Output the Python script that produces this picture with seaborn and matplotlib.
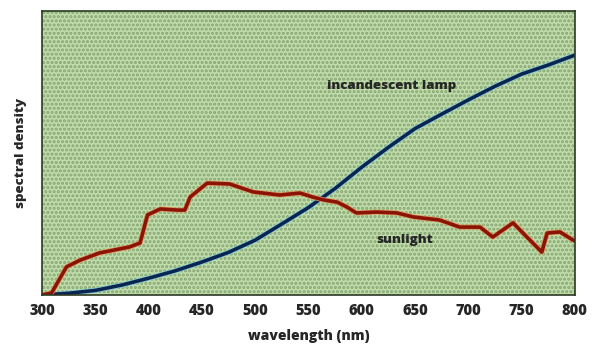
import numpy as np
import pandas as pd
import matplotlib
matplotlib.use("Agg")
import matplotlib.pyplot as plt
import matplotlib.patheffects as pe
import seaborn as sns

# sunlight spectrum (arbitrary units 0-100)
sun_wl = [300, 309, 323, 336, 354, 382, 392, 399, 411, 427, 434, 439, 455, 476, 498,
          514, 523, 542, 554, 564, 577, 586, 595, 614, 633, 648, 657, 673, 692, 711,
          723, 742, 755, 769, 774, 786, 798, 800]
sun_val = [0, 0.7, 9.9, 12.3, 14.8, 16.9, 18.3, 28.2, 30.3, 29.9, 29.9, 34.5, 39.4, 39.1, 36.3,
           35.6, 35.2, 35.9, 34.5, 33.5, 32.7, 31.0, 28.9, 29.2, 28.9, 27.5, 27.1, 26.4, 23.9, 23.9,
           20.4, 25.4, 20.4, 15.1, 21.8, 22.2, 19.4, 19.0]

# incandescent lamp spectrum
lamp_wl = [300, 325, 350, 375, 400, 425, 450, 475, 500, 525, 550, 575, 600, 625, 650,
           675, 700, 725, 750, 775, 800]
lamp_val = [0, 0.6, 1.6, 3.5, 5.9, 8.5, 11.6, 15.0, 19.3, 25.0, 30.8, 37.5, 45.0, 52.0, 58.6,
            63.7, 68.7, 73.5, 77.8, 81.0, 84.5]

xticks = [300, 350, 400, 450, 500, 550, 600, 650, 700, 750, 800]

sun = pd.DataFrame({"wavelength": sun_wl, "density": sun_val})
lamp = pd.DataFrame({"wavelength": lamp_wl, "density": lamp_val})

sns.set_style("white")
plt.rcParams['font.family'] = ['Open Sans', 'DejaVu Sans']
plt.rcParams['hatch.linewidth'] = 1.5

fig = plt.figure(figsize=(5.95, 3.47), dpi=100)
ax = fig.add_axes([0.0706, 0.150, 0.8955, 0.818])

ax.set_facecolor('#c0dcaa')
ax.patch.set_edgecolor('#84a472')
ax.patch.set_linewidth(0)
ax.patch.set_hatch('....')

sns.lineplot(data=lamp, x="wavelength", y="density", ax=ax, color='#0c2450',
             linewidth=2.6, sort=False, estimator=None,
             path_effects=[pe.Stroke(linewidth=3.6, foreground='#7fd0e0'), pe.Normal()])
sns.lineplot(data=sun, x="wavelength", y="density", ax=ax, color='#8a1408',
             linewidth=2.6, sort=False, estimator=None,
             path_effects=[pe.Stroke(linewidth=3.6, foreground='#e59a5a'), pe.Normal()])

ax.text(628, 73.5, "incandescent lamp", fontsize=9.5, fontweight='heavy', ha='center', va='center')
ax.text(640, 19.5, "sunlight", fontsize=9.5, fontweight='heavy', ha='center', va='center')

ax.set_xlim(300, 800)
ax.set_ylim(0, 100)
ax.set_xticks(xticks)
ax.set_xticklabels([str(t) for t in xticks], fontsize=10.5, fontweight='heavy')
ax.set_yticks([])
ax.tick_params(axis='x', direction='in', length=5, width=1.2, color='#1a1a1a', pad=6)

ax.set_xlabel("wavelength (nm)", fontsize=10, fontweight='heavy', labelpad=7)
ax.set_ylabel("spectral density", fontsize=9.5, fontweight='heavy', labelpad=11)

for s in ax.spines.values():
    s.set_color('#2b3a22')
    s.set_linewidth(1.2)

fig.savefig("out.png", dpi=100)
